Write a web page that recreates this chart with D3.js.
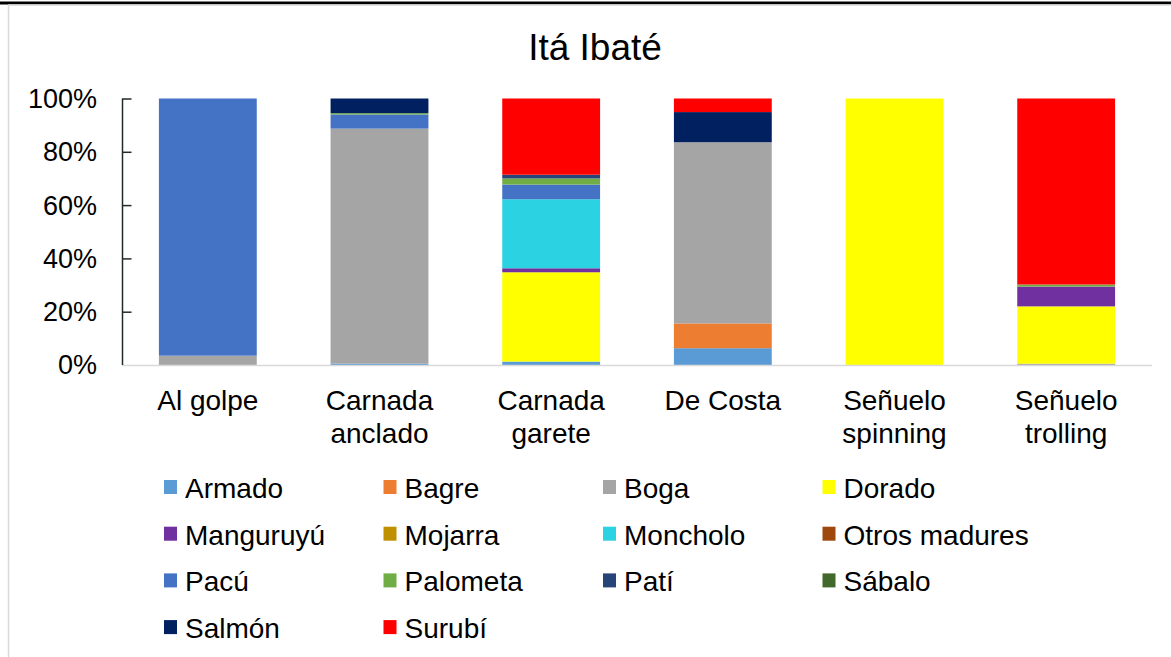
<!DOCTYPE html>
<html>
<head>
<meta charset="utf-8">
<script src="https://cdn.jsdelivr.net/npm/d3@7"></script>
<style>
  body { margin: 0; background: #fff; }
  text { font-family: "Liberation Sans", Arial, sans-serif; fill: #000; }
</style>
</head>
<body>
<svg id="chart" width="1171" height="657"></svg>
<script>
// categories (fishing method) and percentage of catch per species
var categories = ["Al golpe", "Carnada\nanclado", "Carnada\ngarete", "De Costa", "Señuelo\nspinning", "Señuelo\ntrolling"];
var species = ["Armado", "Bagre", "Boga", "Dorado", "Manguruyú", "Mojarra", "Moncholo", "Otros madures", "Pacú", "Palometa", "Patí", "Sábalo", "Salmón", "Surubí"];
var colors = ["#5B9BD5", "#ED7D31", "#A5A5A5", "#FFFF00", "#7030A0", "#BF9000", "#2BD2E1", "#9E480E", "#4472C4", "#70AD47", "#264478", "#43682B", "#002060", "#FF0000"];

var armado   = [0,    0.5,  1.3,  6.3,  0,   0];
var bagre    = [0,    0,    0,    9.3,  0,   0];
var boga     = [3.5,  88.2, 0,    68.0, 0,   0.5];
var dorado   = [0,    0,    33.5, 0,    100, 21.5];
var manguruyu= [0,    0,    1.5,  0,    0,   7.4];
var mojarra  = [0,    0,    0,    0,    0,   0];
var moncholo = [0,    0,    25.9, 0,    0,   0];
var otros    = [0,    0,    0,    0,    0,   0];
var pacu     = [96.5, 5.3,  5.5,  0,    0,   0];
var palometa = [0,    0.5,  2.3,  0,    0,   0.8];
var pati     = [0,    0,    1.4,  0,    0,   0];
var sabalo   = [0,    0,    0,    0,    0,   0];
var salmon   = [0,    5.5,  0,    11.3, 0,   0];
var surubi   = [0,    0,    28.6, 5.1,  0,   69.8];

var yTicks = [0, 0.2, 0.4, 0.6, 0.8, 1];

var series = [armado, bagre, boga, dorado, manguruyu, mojarra, moncholo, otros, pacu, palometa, pati, sabalo, salmon, surubi];

// build rows for d3.stack, normalised to 1
var rows = categories.map(function(c, i) {
  var r = { cat: c };
  var tot = d3.sum(series, function(s) { return s[i]; });
  species.forEach(function(sp, j) { r[sp] = series[j][i] / tot; });
  return r;
});

var svg = d3.select("#chart");

// chart frame
svg.append("line").attr("x1", 0).attr("x2", 1171).attr("y1", 3).attr("y2", 3)
  .attr("stroke", "#000").attr("stroke-width", 3);
svg.append("line").attr("x1", 8).attr("x2", 1171).attr("y1", 5).attr("y2", 5)
  .attr("stroke", "#d9d9d9").attr("stroke-width", 1.5);
svg.append("line").attr("x1", 8.5).attr("x2", 8.5).attr("y1", 5).attr("y2", 657)
  .attr("stroke", "#d9d9d9").attr("stroke-width", 1.5);

svg.append("text")
  .attr("x", 595).attr("y", 60)
  .attr("text-anchor", "middle")
  .style("font-size", "37px")
  .text("Itá Ibaté");

var x = d3.scaleBand()
  .domain(categories)
  .range([122, 1152])
  .paddingInner(0.43)
  .paddingOuter(0.215);

var y = d3.scaleLinear()
  .domain([0, 1])
  .range([365, 98.5]);

var stack = d3.stack().keys(species);
var layers = stack(rows);

svg.append("g")
  .selectAll("g")
  .data(layers)
  .enter().append("g")
  .attr("fill", function(d, i) { return colors[i]; })
  .selectAll("rect")
  .data(function(d) { return d; })
  .enter().append("rect")
  .attr("x", function(d) { return x(d.data.cat); })
  .attr("width", x.bandwidth())
  .attr("y", function(d) { return y(d[1]); })
  .attr("height", function(d) { return y(d[0]) - y(d[1]); });

// x axis line
svg.append("line")
  .attr("x1", 122).attr("x2", 1152)
  .attr("y1", y(0) + 0.5).attr("y2", y(0) + 0.5)
  .attr("stroke", "#d9d9d9").attr("stroke-width", 1.5);

// y axis: dark line with ticks pointing inward
var yAxis = svg.append("g")
  .attr("transform", "translate(122.5,0)")
  .call(d3.axisRight(y).tickValues(yTicks).tickSize(9).tickFormat(""));
yAxis.select(".domain").attr("stroke", "#1f2b2b").attr("stroke-width", 1.5)
  .attr("d", "M0," + y(1) + "V" + y(0));
yAxis.selectAll(".tick line").attr("stroke", "#1f2b2b").attr("stroke-width", 1.5)
  .filter(function(d) { return d === 0; }).remove();

svg.append("g")
  .selectAll("text")
  .data(yTicks)
  .enter().append("text")
  .attr("x", 97)
  .attr("y", function(d) { return y(d); })
  .attr("dy", "0.35em")
  .attr("text-anchor", "end")
  .style("font-size", "27px")
  .text(d3.format(".0%"));

// category labels
var catLabels = svg.append("g")
  .selectAll("text")
  .data(categories)
  .enter().append("text")
  .attr("text-anchor", "middle")
  .style("font-size", "28px")
  .attr("transform", function(d) { return "translate(" + (x(d) + x.bandwidth() / 2) + ",400)"; });
catLabels.selectAll("tspan")
  .data(function(d) { return d.split("\n"); })
  .enter().append("tspan")
  .attr("x", 0)
  .attr("y", function(d, i) { return i * 33; })
  .attr("dy", "0.35em")
  .text(function(d) { return d; });

// legend, 4 columns
var legend = svg.append("g")
  .selectAll("g")
  .data(species)
  .enter().append("g")
  .attr("transform", function(d, i) {
    return "translate(" + (164 + (i % 4) * 219.5) + "," + (487 + Math.floor(i / 4) * 46.7) + ")";
  });
legend.append("rect")
  .attr("x", 0).attr("y", -7)
  .attr("width", 13).attr("height", 14)
  .attr("fill", function(d, i) { return colors[i]; });
legend.append("text")
  .attr("x", 21)
  .attr("y", 1)
  .attr("dy", "0.35em")
  .style("font-size", "28px")
  .text(function(d) { return d; });
</script>
</body>
</html>
